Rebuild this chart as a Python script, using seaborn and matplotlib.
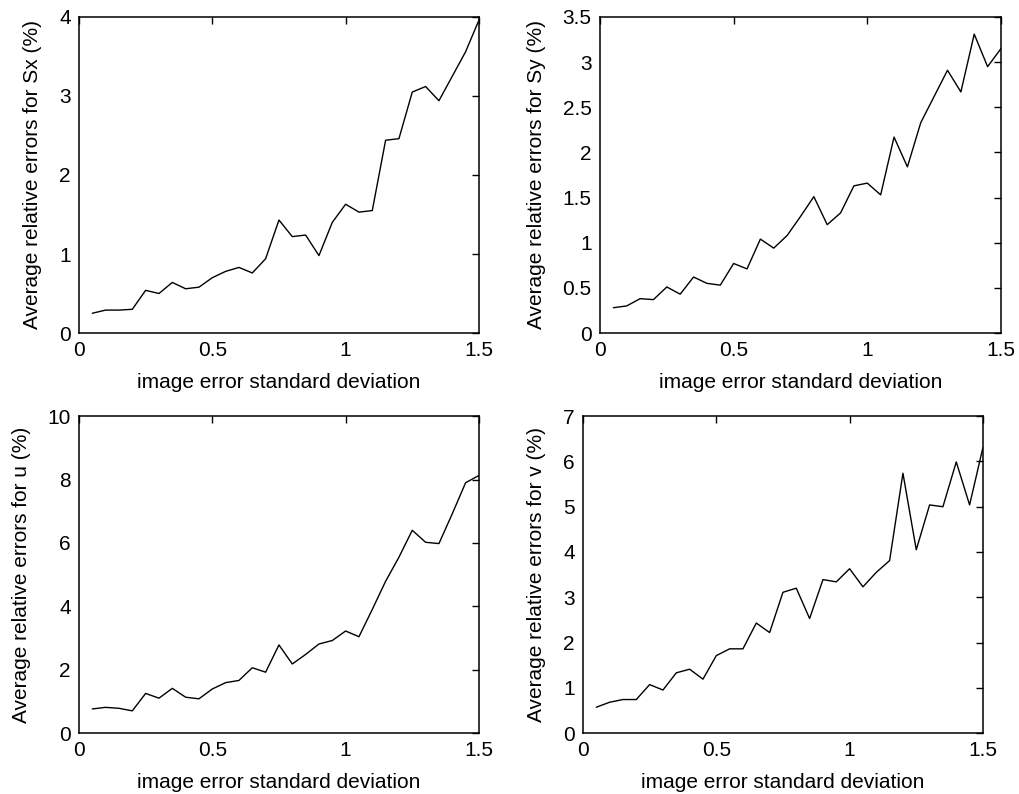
import numpy as np
import pandas as pd
import matplotlib
matplotlib.use("Agg")
import matplotlib.pyplot as plt
from matplotlib.ticker import FuncFormatter
import seaborn as sns

# Image noise levels (standard deviation, pixels)
noise_std = [0.05, 0.10, 0.15, 0.20, 0.25, 0.30, 0.35, 0.40, 0.45, 0.50,
             0.55, 0.60, 0.65, 0.70, 0.75, 0.80, 0.85, 0.90, 0.95, 1.00,
             1.05, 1.10, 1.15, 1.20, 1.25, 1.30, 1.35, 1.40, 1.45, 1.50]

# Average relative errors (%) of the estimated intrinsic parameters
err_sx = [0.25, 0.29, 0.29, 0.30, 0.54, 0.50, 0.64, 0.56, 0.58, 0.70,
          0.78, 0.83, 0.76, 0.94, 1.43, 1.22, 1.24, 0.98, 1.40, 1.63,
          1.53, 1.55, 2.44, 2.46, 3.05, 3.12, 2.94, 3.25, 3.56, 3.96]
err_sy = [0.28, 0.30, 0.38, 0.37, 0.51, 0.43, 0.62, 0.55, 0.53, 0.77,
          0.71, 1.04, 0.94, 1.08, 1.29, 1.51, 1.20, 1.33, 1.63, 1.66,
          1.53, 2.17, 1.84, 2.33, 2.62, 2.91, 2.67, 3.31, 2.95, 3.15]
err_u = [0.76, 0.81, 0.78, 0.70, 1.25, 1.10, 1.41, 1.13, 1.08, 1.39,
         1.59, 1.66, 2.06, 1.92, 2.78, 2.18, 2.48, 2.81, 2.92, 3.22,
         3.04, 3.90, 4.79, 5.55, 6.40, 6.02, 5.98, 6.92, 7.90, 8.13]
err_v = [0.57, 0.68, 0.74, 0.74, 1.07, 0.95, 1.33, 1.41, 1.19, 1.71,
         1.86, 1.86, 2.43, 2.22, 3.11, 3.20, 2.53, 3.39, 3.34, 3.63,
         3.23, 3.55, 3.81, 5.74, 4.05, 5.04, 5.00, 5.99, 5.04, 6.31]

param_names = ["Sx", "Sy", "u", "v"]
y_limits = [4, 3.5, 10, 7]
y_steps = [1, 0.5, 2, 1]

sns.set_theme(style="white")
plt.rcParams["font.family"] = ["Liberation Sans", "DejaVu Sans"]
plt.rcParams["axes.edgecolor"] = "black"
plt.rcParams["axes.labelcolor"] = "black"
plt.rcParams["text.color"] = "black"
plt.rcParams["axes.linewidth"] = 1.1

fig = plt.figure(figsize=(10.19, 7.94), dpi=100)
positions = [
    [0.0775, 0.5806, 0.3925, 0.398],
    [0.5888, 0.5806, 0.3935, 0.398],
    [0.0775, 0.0768, 0.3925, 0.399],
    [0.5721, 0.0768, 0.3925, 0.399],
]

series = [err_sx, err_sy, err_u, err_v]
fmt = FuncFormatter(lambda v, _: f"{v:g}")

for pos, name, vals, ymax, step in zip(positions, param_names, series,
                                       y_limits, y_steps):
    ax = fig.add_axes(pos)
    df = pd.DataFrame({"std": noise_std, "err": vals})
    sns.lineplot(data=df, x="std", y="err", ax=ax, color="black",
                 linewidth=1.0)
    ax.set_xlim(0, 1.5)
    ax.set_ylim(0, ymax)
    ax.set_xticks([0, 0.5, 1, 1.5])
    ax.set_yticks(np.arange(0, ymax + step / 2, step))
    ax.xaxis.set_major_formatter(fmt)
    ax.yaxis.set_major_formatter(fmt)
    ax.tick_params(direction="in", top=True, right=True, length=5,
                   width=1, labelsize=15, colors="black", pad=6)
    ax.set_xlabel("image error standard deviation", fontsize=15,
                  labelpad=9, color="black")
    ax.set_ylabel(f"Average relative errors for {name} (%)", fontsize=15,
                  labelpad=12, color="black")
    for sp in ax.spines.values():
        sp.set_visible(True)
        sp.set_color("black")

fig.savefig("out.png", dpi=100, facecolor="white")
